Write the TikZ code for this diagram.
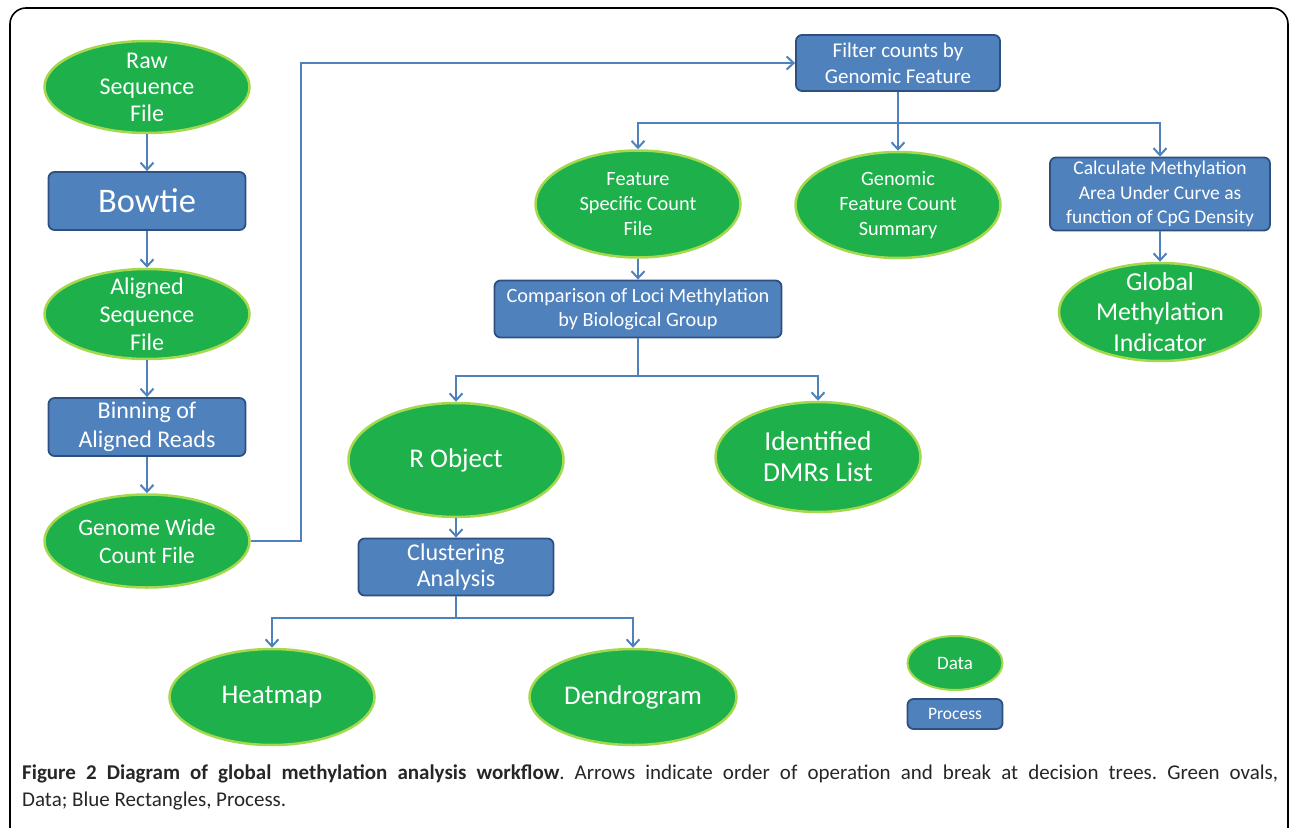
\documentclass[tikz,border=0pt]{standalone}
\usepackage{fontspec}
\setmainfont{Carlito}
\usetikzlibrary{shapes.geometric,arrows.meta}
\definecolor{dgreen}{HTML}{1DB04B}
\definecolor{lgreen}{HTML}{A6D84E}
\definecolor{pblue}{HTML}{4F81BD}
\definecolor{dblue}{HTML}{2F4F80}
\definecolor{lblue}{HTML}{4F81BD}
\begin{document}
\begin{tikzpicture}[x=1pt,y=-1pt,
  data/.style={ellipse, fill=dgreen, draw=lgreen, line width=2.5pt, inner sep=0pt},
  txt/.style={text=white, align=center, inner sep=0pt},
  dlab/.style 2 args={label={[txt,font=#1]center:{#2}}},
  proc/.style={rectangle, rounded corners=6pt, fill=pblue, draw=dblue, line width=1.8pt, text=white, align=center, inner sep=0pt},
  line/.style={draw=lblue, line width=2pt},
  conn/.style={line, -{Straight Barb[length=7pt,width=13pt,line width=2pt]}}]
\useasboundingbox (0,0) rectangle (1290,827);
\draw[black, line width=1.6pt, rounded corners=16pt] (10,8) rectangle (1288,845);

% left column
\node[data, minimum width=205, minimum height=92, dlab={\fontsize{24}{26.5}\selectfont}{Raw\\Sequence\\File}] (raw) at (147,87) {};
\node[proc, minimum width=197, minimum height=58, font=\fontsize{34.5}{38}\selectfont] (bowtie) at (147,201) {Bowtie};
\node[data, minimum width=205, minimum height=90, dlab={\fontsize{24}{28}\selectfont}{Aligned\\Sequence\\File}] (aligned) at (147,314) {};
\node[proc, minimum width=197, minimum height=58, font=\fontsize{24}{29}\selectfont] (binning) at (147,427) {Binning of\\Aligned Reads};
\node[data, minimum width=205, minimum height=93, dlab={\fontsize{23.5}{28}\selectfont}{Genome Wide\\Count File}] (genome) at (147,541) {};

% top right
\node[proc, minimum width=204, minimum height=56, font=\fontsize{21}{26}\selectfont] (filter) at (898,63) {Filter counts by\\Genomic Feature};
\node[data, minimum width=205, minimum height=107, dlab={\fontsize{20.3}{25}\selectfont}{Feature\\Specific Count\\File}] (feat) at (638,204) {};
\node[data, minimum width=205, minimum height=106, dlab={\fontsize{20.3}{25}\selectfont}{Genomic\\Feature Count\\Summary}] (gen) at (898,205) {};
\node[proc, minimum width=220, minimum height=73, font=\fontsize{19.5}{24.5}\selectfont] (calc) at (1160,194) {Calculate Methylation\\Area Under Curve as\\function of CpG Density};
\node[data, minimum width=202, minimum height=98, dlab={\fontsize{25.8}{30.5}\selectfont}{Global\\Methylation\\Indicator}] (glob) at (1160,312) {};

\node[proc, minimum width=287, minimum height=57, font=\fontsize{20.3}{24}\selectfont] (comp) at (638,309) {Comparison of Loci Methylation\\by Biological Group};
\node[data, minimum width=215, minimum height=114, dlab={\fontsize{27}{31}\selectfont}{R Object}] (robj) at (456,460) {};
\node[data, minimum width=205, minimum height=110, dlab={\fontsize{27.5}{31}\selectfont}{Identified\\DMRs List}] (dmr) at (818,457) {};
\node[proc, minimum width=195, minimum height=57, font=\fontsize{24}{26}\selectfont] (clust) at (456,567) {Clustering\\Analysis};
\node[data, minimum width=205, minimum height=96, dlab={\fontsize{27}{31}\selectfont}{Heatmap}] (heat) at (272,697) {};
\node[data, minimum width=207, minimum height=96, dlab={\fontsize{27}{31}\selectfont}{Dendrogram}] (dendro) at (633,697) {};

% legend
\node[data, minimum width=95, minimum height=54, line width=2pt, dlab={\fontsize{19}{20}\selectfont}{Data}] (ldata) at (955,663) {};
\node[proc, minimum width=95, minimum height=30, font=\fontsize{17.5}{19}\selectfont] (lproc) at (955,714) {Process};

% connectors
\draw[conn] (raw) -- (bowtie);
\draw[conn] (bowtie) -- (aligned);
\draw[conn] (aligned) -- (binning);
\draw[conn] (binning) -- (genome);
\draw[conn] (genome.east) -- ++(50,0) |- (filter.west);

\coordinate (fj) at (898,123);
\draw[conn] (filter) -- (gen);
\draw[conn] (fj) -| (feat.north);
\draw[conn] (fj) -| (calc.north);
\draw[conn] (calc) -- (glob);
\draw[conn] (feat) -- (comp);

\coordinate (cj) at (638,376);
\draw[line] (comp.south) -- (cj);
\draw[conn] (cj) -| (robj.north);
\draw[conn] (cj) -| (dmr.north);
\draw[conn] (robj) -- (clust);

\coordinate (kj) at (456,618);
\draw[line] (clust.south) -- (kj);
\draw[conn] (kj) -| (heat.north);
\draw[conn] (kj) -| (dendro.north);

% caption
\node[anchor=north west, text width=1256pt, align=justify, inner sep=0pt, text=black!85,
      font=\fontsize{21}{27}\selectfont\frenchspacing] (cap) at (22,765)
  {\textbf{Figure 2 Diagram of global methylation analysis workflow}. Arrows indicate order of operation and break at decision trees. Green ovals,\linebreak Data; Blue Rectangles, Process.};
\end{tikzpicture}
\end{document}
